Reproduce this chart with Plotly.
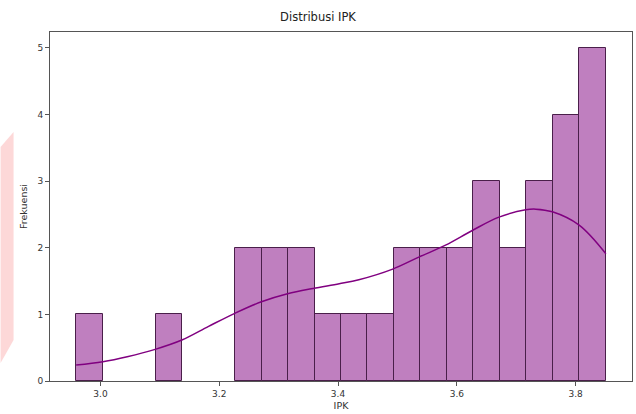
import numpy as np
import plotly.graph_objects as go

# Histogram data (20 bins between min and max IPK)
ipk_min = 2.959
ipk_max = 3.851
n_bins = 20
counts = [1, 0, 0, 1, 0, 0, 2, 2, 2, 1, 1, 1, 2, 2, 2, 3, 2, 3, 4, 5]

# KDE curve (scaled to counts)
kde_x = [2.959, 3.004, 3.045, 3.092, 3.137, 3.182, 3.227, 3.271, 3.315, 3.358,
         3.402, 3.435, 3.492, 3.536, 3.581, 3.626, 3.671, 3.716, 3.733, 3.761,
         3.806, 3.851]
kde_y = [0.24, 0.29, 0.365, 0.475, 0.615, 0.82, 1.02, 1.19, 1.31, 1.39,
         1.46, 1.52, 1.68, 1.86, 2.04, 2.26, 2.46, 2.57, 2.58, 2.54,
         2.34, 1.91]

x_ticks = [3.0, 3.2, 3.4, 3.6, 3.8]
y_ticks = [0, 1, 2, 3, 4, 5]

edges = np.linspace(ipk_min, ipk_max, n_bins + 1)
centers = (edges[:-1] + edges[1:]) / 2
bin_w = edges[1] - edges[0]
edge_widths = [1 if c > 0 else 0 for c in counts]

fig = go.Figure()
fig.add_trace(go.Bar(
    x=centers, y=counts, width=bin_w,
    marker=dict(color="rgba(128,0,128,0.5)",
                line=dict(color="#4a1f4a", width=edge_widths)),
    showlegend=False, hoverinfo="x+y",
))
fig.add_trace(go.Scatter(
    x=kde_x, y=kde_y, mode="lines",
    line=dict(color="purple", width=1.5, shape="spline"),
    showlegend=False,
))

axis_common = dict(
    showline=True, linecolor="#555555", linewidth=1, mirror=True,
    ticks="outside", ticklen=4, tickcolor="#555555",
    showgrid=False, zeroline=False,
    tickfont=dict(family="DejaVu Sans", size=9, color="#333333"),
)

fig.update_layout(
    width=636, height=414,
    margin=dict(l=50, r=4, t=32, b=33),
    paper_bgcolor="white", plot_bgcolor="white",
    title=dict(text="Distribusi IPK", x=0.5, xanchor="center",
               y=1 - 17 / 414, yanchor="middle",
               font=dict(family="DejaVu Sans", size=11.5, color="#222222")),
    xaxis=dict(range=[2.915, 3.895], tickvals=x_ticks,
               ticktext=[f"{v:.1f}" for v in x_ticks],
               title=dict(text="IPK", standoff=4,
                          font=dict(family="DejaVu Sans", size=9.5, color="#333333")),
               **axis_common),
    yaxis=dict(range=[0, 5.24], tickvals=y_ticks,
               title=dict(text="Frekuensi", standoff=8,
                          font=dict(family="DejaVu Sans", size=9.5, color="#333333")),
               **axis_common),
    bargap=0,
    shapes=[dict(
        type="path", xref="paper", yref="paper", layer="below",
        path="M -0.0849 0.6705 L -0.0626 0.7135 L -0.0626 0.1175 L -0.0849 0.0516 Z",
        fillcolor="#fdd8d8", line=dict(width=0),
    )],
)

fig.write_html("out.html")
